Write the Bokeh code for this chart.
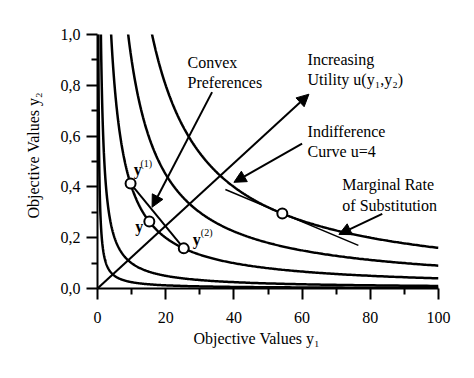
import numpy as np
from bokeh.plotting import figure
from bokeh.models import Label, Arrow, NormalHead, FixedTicker, CustomJSTickFormatter, Title
from bokeh.embed import file_html
from bokeh.resources import INLINE

# ---- data ----
utility_levels = [0.5, 1, 2, 3, 4]          # indifference curves y1*y2 = u^2
x_ticks = [0, 20, 40, 60, 80, 100]
x_minor = [10, 30, 50, 70, 90]
y_ticks = [0, 0.2, 0.4, 0.6, 0.8, 1.0]
y_minor = [0.1, 0.3, 0.5, 0.7, 0.9]

point_y1 = [9.7, 15.2, 25.3]                 # y(1), y, y(2)
point_y2 = [0.413, 0.264, 0.158]
chord_y1 = [9.7, 25.3]
chord_y2 = [0.413, 0.158]
mrs_y1 = [54.2]
mrs_y2 = [0.295]
tangent_y1 = [37.5, 76.5]
tangent_y2 = [0.39, 0.17]

utility_arrow = (0.0, 0.0, 62.0, 0.765)
convex_arrow = (33.6, 0.773, 16.0, 0.320)
indiff_arrow = (60.0, 0.570, 40.0, 0.418)
mrs_arrow = (83.5, 0.294, 70.8, 0.213)

FONT = "Liberation Serif"

p = figure(frame_width=341, frame_height=254, x_range=(0, 100), y_range=(0, 1),
           min_border_left=97, min_border_right=28, min_border_top=34, min_border_bottom=82,
           output_backend="svg", toolbar_location=None, tools="")
p.outline_line_color = None
p.xgrid.visible = False
p.ygrid.visible = False
p.background_fill_color = "white"

for ax, ticks, minor in ((p.xaxis[0], x_ticks, x_minor), (p.yaxis[0], y_ticks, y_minor)):
    ax.ticker = FixedTicker(ticks=ticks, minor_ticks=minor)
    ax.axis_line_width = 2
    ax.major_tick_line_width = 2
    ax.minor_tick_line_width = 2
    ax.major_tick_in = 0
    ax.major_tick_out = 11
    ax.minor_tick_in = 0
    ax.minor_tick_out = 6
    ax.major_label_text_font = FONT
    ax.major_label_text_font_size = "16px"
    ax.major_label_text_color = "black"
p.xaxis[0].major_label_standoff = 12
p.yaxis[0].major_label_standoff = 6
p.yaxis[0].formatter = CustomJSTickFormatter(code="return tick.toFixed(1).replace('.', ',');")

# axis titles
p.add_layout(Title(text="Objective Values y\u2081", text_font=FONT, text_font_size="16px",
                   text_font_style="normal", text_color="black",
                   align="left", offset=96, standoff=4), "below")
p.add_layout(Title(text="Objective Values y\u2082", text_font=FONT, text_font_size="16px",
                   text_font_style="normal", text_color="black",
                   align="left", offset=70, standoff=32), "left")

# indifference curves
for u in utility_levels:
    xs = np.geomspace(u ** 2 / 1.05, 100, 400)
    p.line(xs, u ** 2 / xs, line_color="black", line_width=2.5)

# chord between y(1) and y(2)
p.line(chord_y1, chord_y2, line_color="black", line_width=2)
# tangent (marginal rate of substitution)
p.line(tangent_y1, tangent_y2, line_color="black", line_width=1.5)

# arrows
for (x0, y0, x1, y1) in (utility_arrow, convex_arrow, indiff_arrow, mrs_arrow):
    p.add_layout(Arrow(x_start=x0, y_start=y0, x_end=x1, y_end=y1, line_width=2,
                       line_color="black",
                       end=NormalHead(size=12, fill_color="black", line_color="black")))

# points
p.scatter(point_y1, point_y2, size=10, marker="circle", fill_color="white",
          line_color="black", line_width=2)
p.scatter(mrs_y1, mrs_y2, size=10, marker="circle", fill_color="white",
          line_color="black", line_width=2)


def lab(x, y, text, size="16px", style="normal"):
    p.add_layout(Label(x=x, y=y, text=text, text_font=FONT, text_font_size=size,
                       text_font_style=style, text_baseline="alphabetic",
                       text_align="left", text_color="black"))


# annotations
lab(26.4, 0.891, "Convex")
lab(26.4, 0.812, "Preferences")
lab(61.6, 0.901, "Increasing")
lab(61.6, 0.822, "Utility u(y\u2081,y\u2082)")
lab(61.6, 0.618, "Indifference")
lab(61.6, 0.540, "Curve u=4")
lab(71.8, 0.408, "Marginal Rate")
lab(71.8, 0.326, "of Substitution")

# point labels
lab(10.6, 0.470, "y", size="16px", style="bold")
lab(12.6, 0.493, "(1)", size="10px")
lab(11.1, 0.245, "y", size="16px", style="bold")
lab(27.9, 0.194, "y", size="16px", style="bold")
lab(30.3, 0.222, "(2)", size="10px")

open("out.html", "w").write(file_html(p, INLINE))
